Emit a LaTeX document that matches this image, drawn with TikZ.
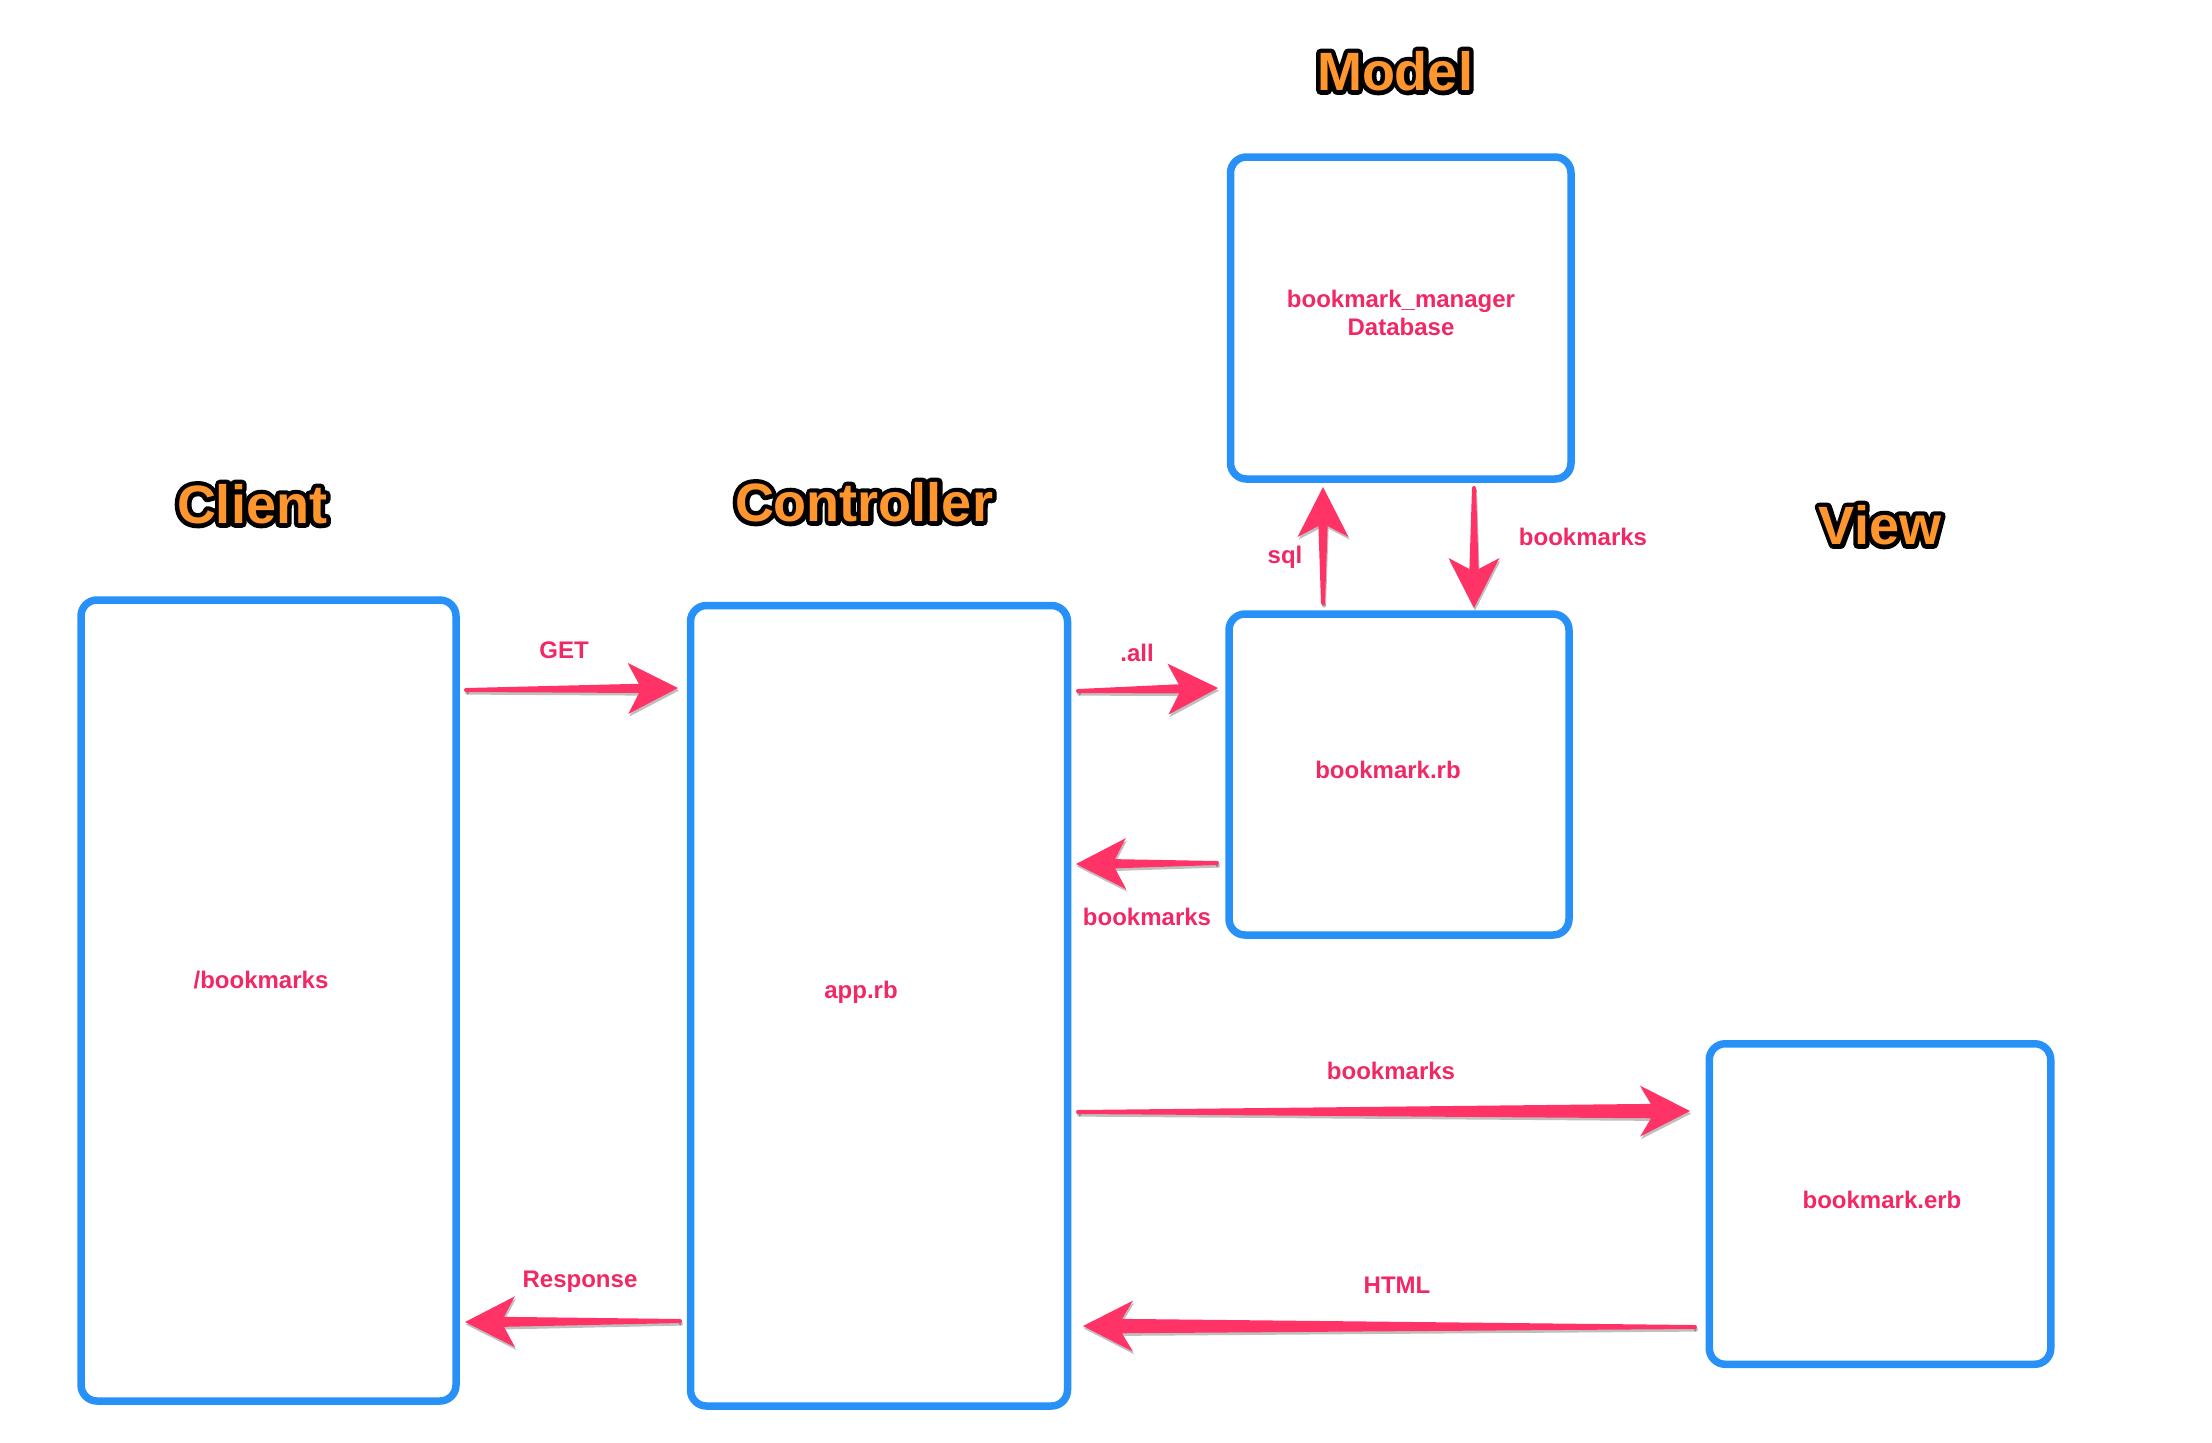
\documentclass[tikz,border=0pt]{standalone}
\usepackage{fontspec}
\setmainfont{Liberation Sans}
\usetikzlibrary{calc}
\definecolor{boxblue}{RGB}{40,145,248}
\definecolor{arrpink}{RGB}{255,51,102}
\definecolor{labpink}{RGB}{240,40,100}
\definecolor{titleor}{RGB}{255,150,45}

\tikzset{
 box/.style={draw=boxblue, line width=3.75pt, rounded corners=8pt, inner sep=0pt, outer sep=0pt},
 lab/.style={font=\bfseries\fontsize{12}{14}\selectfont, text=labpink, inner sep=1pt, align=center},
 ttl/.style={font=\bfseries\fontsize{27}{30}\selectfont, inner sep=0pt},
}

% tapered arrow shape: #1 colour, #2 half width at head, #3 from, #4 to
\newcommand\skshape[4]{%
 \coordinate (bb) at ($(#4)!25pt!(#3)$);
 \coordinate (hb) at ($(#4)!19.5pt!(#3)$);
 \fill[#1, line join=round]
 ($(#3)!1pt!90:(#4)$) -- ($(hb)!#2!90:(#4)$) -- ($(bb)!12.75pt!90:(#4)$) -- (#4)
 -- ($(bb)!12.75pt!-90:(#4)$) -- ($(hb)!#2!-90:(#4)$) -- ($(#3)!1pt!-90:(#4)$) -- cycle;
 \fill[#1] (#3) circle (1pt);
}
\newcommand\skarrow[3][1.8pt]{%
 \begin{scope}[transform canvas={shift={(0.5pt,-1.3pt)}}, opacity=.25]
 \skshape{black}{#1}{#2}{#3}
 \end{scope}
 \skshape{arrpink}{#1}{#2}{#3}
}
% title: black stroked copy below, orange filled copy on top
\newcommand\titlenode[3]{%
 \node[ttl,text=black] at (#2) {\special{pdf:literal direct 1 Tr 4.5 w 1 j 0 0 0 RG}#3\special{pdf:literal direct 0 Tr 1 w}};
 \node[ttl,text=titleor] (#1) at (#2) {#3};
}

\begin{document}
\begin{tikzpicture}[x=0.5pt,y=-0.5pt]
\useasboundingbox (0,0) rectangle (2212,1442);

% boxes
\node[box, minimum width=187.5pt, minimum height=400.5pt] (client) at (268.5,1000.5) {};
\node[box, minimum width=188.5pt, minimum height=400.25pt] (ctrl) at (879,1005.75) {};
\node[box, minimum width=170.25pt, minimum height=161pt] (db) at (1400.75,318) {};
\node[box, minimum width=170pt, minimum height=160.5pt] (rb) at (1399,774.5) {};
\node[box, minimum width=170.75pt, minimum height=160.25pt] (erb) at (1880,1204) {};

% titles
\titlenode{tclient}{252,504}{Client}
\titlenode{tctrl}{864,502}{Controller}
\titlenode{tmodel}{1395,71}{Model}
\titlenode{tview}{1880,525}{View}

% box labels
\node[lab] (lclient) at (261,980) {/bookmarks};
\node[lab] (lctrl) at (861,992) {app.rb};
\node[lab] (ldb) at (1401,313) {bookmark\_manager\\Database};
\node[lab] (lrb) at (1388,770) {bookmark.rb};
\node[lab] (lerb) at (1882,1200) {bookmark.erb};

% connector end points
\coordinate (get-s) at (466,690);   \coordinate (get-e) at (678,688);
\coordinate (all-s) at (1078,691);  \coordinate (all-e) at (1218,688);
\coordinate (bk1-s) at (1217,863);  \coordinate (bk1-e) at (1076,864);
\coordinate (sql-s) at (1323,603);  \coordinate (sql-e) at (1323,487);
\coordinate (bk2-s) at (1474,488);  \coordinate (bk2-e) at (1474,608);
\coordinate (bk3-s) at (1078,1112); \coordinate (bk3-e) at (1690,1111);
\coordinate (res-s) at (680,1321);  \coordinate (res-e) at (465,1322);
\coordinate (htm-s) at (1695,1327); \coordinate (htm-e) at (1083,1326);

% arrows
\skarrow[2.3pt]{get-s}{get-e}
\skarrow[2.3pt]{all-s}{all-e}
\skarrow[2.3pt]{bk1-s}{bk1-e}
\skarrow[2.3pt]{sql-s}{sql-e}
\skarrow[2.3pt]{bk2-s}{bk2-e}
\skarrow[3.6pt]{bk3-s}{bk3-e}
\skarrow[2.5pt]{res-s}{res-e}
\skarrow[3.6pt]{htm-s}{htm-e}

% connector labels
\node[lab] (lget) at (564,650) {GET};
\node[lab] (lall) at (1137,653) {.all};
\node[lab] (lbk1) at (1147,917) {bookmarks};
\node[lab] (lsql) at (1285,557) {sql};
\node[lab] (lbk2) at (1583,537) {bookmarks};
\node[lab] (lbk3) at (1391,1071) {bookmarks};
\node[lab] (lres) at (580,1282) {Response};
\node[lab] (lhtm) at (1397,1285) {HTML};
\end{tikzpicture}
\end{document}
